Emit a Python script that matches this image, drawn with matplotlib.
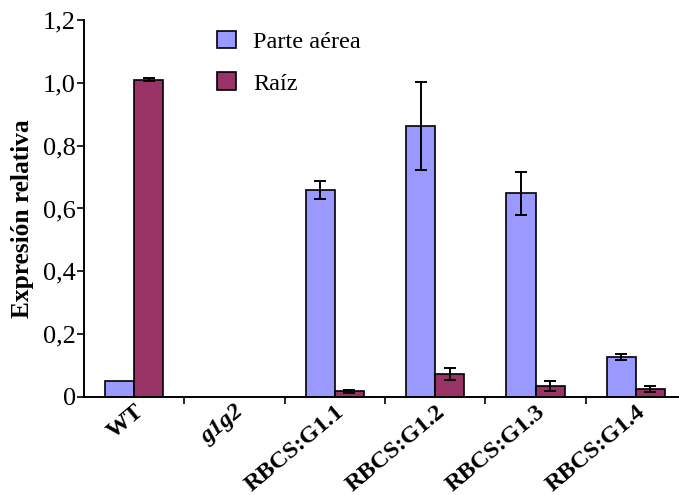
import matplotlib
matplotlib.use("Agg")
import matplotlib.pyplot as plt
import matplotlib.transforms as mtransforms
import numpy as np
from matplotlib.ticker import FixedLocator

categories = ["WT", "g1g2", "RBCS:G1.1", "RBCS:G1.2", "RBCS:G1.3", "RBCS:G1.4"]
parte_aerea = [0.051, 0.0, 0.659, 0.862, 0.648, 0.127]
parte_aerea_err = [0.0, 0.0, 0.03, 0.141, 0.068, 0.01]
raiz = [1.010, 0.0, 0.018, 0.073, 0.035, 0.025]
raiz_err = [0.005, 0.0, 0.005, 0.02, 0.015, 0.01]
yticks = [0, 0.2, 0.4, 0.6, 0.8, 1.0, 1.2]
ytick_labels = ["0", "0,2", "0,4", "0,6", "0,8", "1,0", "1,2"]

plt.rcParams['font.family'] = ['Liberation Serif', 'DejaVu Serif']

fig = plt.figure(figsize=(6.79, 4.95), dpi=100)
ax = fig.add_axes([0.1237, 0.198, 0.8748, 0.7616])

x = np.arange(len(categories))
w = 0.29
blue = "#9999FF"
red = "#993366"
show_a = [v > 0 for v in parte_aerea]
show_r = [v > 0 for v in raiz]
xa = x[show_a] - w / 2
xr = x[show_r] + w / 2
ax.bar(xa, np.array(parte_aerea)[show_a], w, color=blue, edgecolor="black", linewidth=1.2, label="Parte aérea")
ax.bar(xr, np.array(raiz)[show_r], w, color=red, edgecolor="black", linewidth=1.2, label="Raíz")
ea = np.array(parte_aerea_err)[show_a]
er = np.array(raiz_err)[show_r]
ma = ea > 0
mr = er > 0
ax.errorbar(xa[ma], np.array(parte_aerea)[show_a][ma], yerr=ea[ma], fmt="none", ecolor="black", elinewidth=1.4, capsize=4.5, capthick=1.4)
ax.errorbar(xr[mr], np.array(raiz)[show_r][mr], yerr=er[mr], fmt="none", ecolor="black", elinewidth=1.4, capsize=4.5, capthick=1.4)

ax.set_xlim(-0.5, 5.42)
ax.set_ylim(0, 1.2)
ax.set_yticks(yticks)
ax.set_yticklabels(ytick_labels, fontsize=19)
ax.tick_params(axis='y', direction='out', length=5, width=1.2, pad=1)

ax.set_xticks(x)
ax.set_xticklabels(categories, rotation=40, ha='right', rotation_mode='anchor', fontsize=17.5, fontweight='bold')
offset = mtransforms.ScaledTranslation(13 / 100, 0, fig.dpi_scale_trans)
for lbl in ax.get_xticklabels():
    lbl.set_transform(lbl.get_transform() + offset)
    if lbl.get_text() == "g1g2":
        lbl.set_fontstyle('italic')
ax.tick_params(axis='x', which='major', length=0, pad=3)
ax.xaxis.set_minor_locator(FixedLocator([0.5, 1.5, 2.5, 3.5, 4.5]))
ax.tick_params(axis='x', which='minor', direction='out', length=5, width=1.2)

for s in ['top', 'right']:
    ax.spines[s].set_visible(False)
for s in ['left', 'bottom']:
    ax.spines[s].set_linewidth(1.4)

ax.set_ylabel("Expresión relativa", fontsize=18.3, fontweight='bold')
ax.yaxis.set_label_coords(-0.084, 0.472)

leg = ax.legend(loc='upper left', bbox_to_anchor=(0.187, 1.03), frameon=False, fontsize=17.5,
                handlelength=0.8, handleheight=0.75, labelspacing=0.8, handletextpad=0.7)

fig.savefig("out.png", dpi=100)
